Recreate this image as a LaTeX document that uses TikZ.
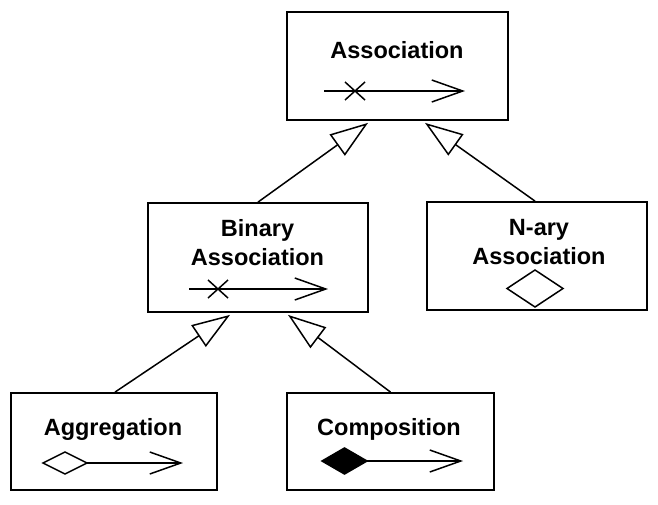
\documentclass[tikz,border=0pt]{standalone}
\usepackage{fontspec}
\setmainfont{Liberation Sans}
\usetikzlibrary{arrows.meta,calc}
\begin{document}
\begin{tikzpicture}[x=1pt,y=-1pt,
  box/.style={draw, line width=1.8pt, inner sep=0pt, rectangle},
  lbl/.style={font=\bfseries\fontsize{23.5}{28}\selectfont, inner sep=0pt, anchor=base},
  gen/.style={line width=1.5pt, -{Triangle[open, length=38pt, width=26pt, line width=1.5pt]}},
  icon/.style={line width=1.5pt},
  nav/.style={icon, -{Straight Barb[length=31pt, width=22pt, line width=1.5pt]}}]
\useasboundingbox (0,0) rectangle (658,504);

% boxes
\node[box, minimum width=221pt, minimum height=108pt] (assoc) at (397.5,66) {};
\node[box, minimum width=220pt, minimum height=109pt] (bin) at (258,257.5) {};
\node[box, minimum width=220pt, minimum height=108pt] (nary) at (537,256) {};
\node[box, minimum width=206pt, minimum height=97pt] (agg) at (114,441.5) {};
\node[box, minimum width=207pt, minimum height=97pt] (comp) at (390.5,441.5) {};

% labels
\node[lbl] (t1) at (397,58) {Association};
\node[lbl] (t2) at (257.5,236) {Binary};
\node[lbl] (t3) at (257.5,265) {Association};
\node[lbl] (t4) at (539,235) {N-ary};
\node[lbl] (t5) at (539,264) {Association};
\node[lbl] (t6) at (113,435) {Aggregation};
\node[lbl] (t7) at (389,435) {Composition};

% generalizations
\coordinate (g1) at ($(assoc.south)+(-29.5,2)$);
\coordinate (g2) at ($(assoc.south)+(27.5,2)$);
\coordinate (g3) at ($(bin.south)+(-28,2)$);
\coordinate (g4) at ($(bin.south)+(30,2)$);
\draw[gen] (bin.north) -- (g1);
\draw[gen] ($(nary.north)+(-2,0)$) -- (g2);
\draw[gen] ($(agg.north)+(1,0)$) -- (g3);
\draw[gen] (comp.north) -- (g4);

% association icon
\draw[nav] (324,91) -- (465,91);
\draw[icon] (345,82) -- (365,100) (345,100) -- (365,82);

% binary association icon
\draw[nav] (189,289) -- (328,289);
\draw[icon] (208,280) -- (228,298) (208,298) -- (228,280);

% n-ary diamond
\draw[icon] (507,288.5) -- (535,270) -- (563,288.5) -- (535,307) -- cycle;

% aggregation icon
\draw[icon] (43,463) -- (65,452) -- (87,463) -- (65,474) -- cycle;
\draw[nav] (87,463) -- (183,463);

% composition icon
\filldraw[icon] (322,461) -- (344.5,448) -- (367,461) -- (344.5,474) -- cycle;
\draw[nav] (367,461) -- (463,461);
\end{tikzpicture}
\end{document}
